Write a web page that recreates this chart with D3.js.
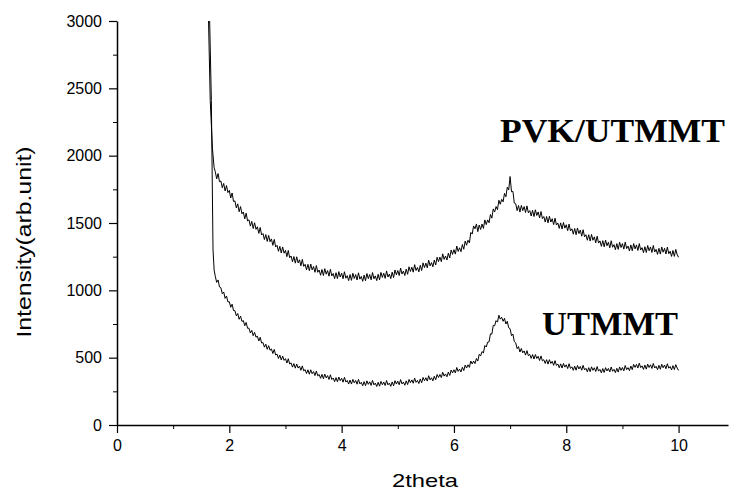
<!DOCTYPE html>
<html lang="en">
<head>
    <meta charset="UTF-8">
    <title>XRD patterns PVK/UTMMT and UTMMT</title>
    <script src="https://d3js.org/d3.v7.min.js"></script>
    <style>
        body {
            margin: 0;
            background: #fff;
        }
        .tick text {
            font-family: Arial, "Liberation Sans", sans-serif;
            font-size: 16px;
            fill: #000;
        }
        .axis path, .axis line {
            stroke: #000;
        }
    </style>
</head>
<body>
    <div id="chart"></div>

    <script>
        // scan grid of the diffractometer (2theta, degrees)
        const scanStart = 1.75;
        const scanStep = 0.025;

        // steep low-angle rise as [2theta, counts]
        const pvkRise = [[1.62, 3200], [1.63, 3000], [1.66, 2410], [1.70, 2050], [1.73, 1910]];
        const utmmtRise = [[1.64, 3200], [1.65, 3000], [1.68, 2410], [1.71, 1300], [1.73, 1150]];

        // PVK/UTMMT counts from 1.75 to 10.00, one row per 0.25 deg
        const pvkCounts = [
            1882, 1828, 1867, 1806, 1812, 1762, 1794, 1738, 1778, 1726,
            1742, 1686, 1723, 1660, 1664, 1612, 1642, 1584, 1622, 1568,
            1582, 1531, 1573, 1515, 1524, 1477, 1512, 1459, 1502, 1453,
            1472, 1423, 1467, 1411, 1422, 1377, 1414, 1363, 1408, 1361,
            1382, 1334, 1378, 1322, 1334, 1290, 1327, 1277, 1322, 1276,
            1297, 1250, 1296, 1242, 1255, 1212, 1251, 1202, 1249, 1204,
            1227, 1182, 1230, 1178, 1193, 1152, 1193, 1146, 1195, 1152,
            1177, 1134, 1184, 1134, 1151, 1112, 1155, 1110, 1161, 1120,
            1147, 1105, 1156, 1107, 1125, 1087, 1131, 1087, 1139, 1099,
            1127, 1086, 1138, 1090, 1109, 1072, 1117, 1074, 1127, 1088,
            1117, 1077, 1130, 1083, 1103, 1067, 1113, 1071, 1125, 1087,
            1117, 1078, 1132, 1086, 1107, 1072, 1119, 1078, 1133, 1096,
            1127, 1089, 1144, 1099, 1121, 1087, 1135, 1095, 1151, 1115,
            1147, 1110, 1165, 1121, 1143, 1110, 1158, 1119, 1175, 1140,
            1172, 1135, 1191, 1147, 1170, 1137, 1186, 1147, 1204, 1169,
            1202, 1167, 1224, 1182, 1206, 1175, 1225, 1188, 1246, 1213,
            1247, 1213, 1271, 1230, 1255, 1225, 1276, 1240, 1299, 1267,
            1302, 1269, 1329, 1289, 1316, 1287, 1340, 1305, 1366, 1335,
            1372, 1352, 1430, 1418, 1478, 1457, 1493, 1436, 1485, 1452,
            1492, 1460, 1523, 1488, 1523, 1502, 1563, 1536, 1605, 1582,
            1622, 1599, 1669, 1639, 1676, 1657, 1720, 1695, 1766, 1745,
            1845, 1732, 1735, 1648, 1643, 1592, 1630, 1581, 1630, 1592,
            1622, 1578, 1627, 1576, 1592, 1552, 1594, 1548, 1598, 1556,
            1582, 1537, 1585, 1533, 1548, 1507, 1548, 1501, 1550, 1507,
            1532, 1488, 1536, 1485, 1500, 1460, 1501, 1455, 1504, 1462,
            1487, 1443, 1492, 1441, 1457, 1417, 1459, 1413, 1463, 1421,
            1447, 1402, 1450, 1398, 1413, 1372, 1413, 1366, 1415, 1372,
            1397, 1353, 1402, 1351, 1367, 1327, 1369, 1323, 1373, 1331,
            1357, 1316, 1368, 1320, 1339, 1302, 1347, 1304, 1357, 1318,
            1347, 1306, 1358, 1310, 1329, 1292, 1337, 1294, 1347, 1308,
            1337, 1296, 1347, 1299, 1317, 1280, 1324, 1281, 1333, 1294,
            1322, 1281, 1333, 1285, 1304, 1267, 1312, 1269, 1322, 1283,
            1312, 1270, 1321, 1272, 1290, 1252, 1296, 1252, 1304, 1264,
            1245
        ];

        // UTMMT counts from 1.75 to 10.00, one row per 0.25 deg
        const utmmtCounts = [
            1105, 1059, 1077, 1025, 1019, 975, 988, 940, 958, 914,
            915, 874, 897, 850, 849, 810, 828, 785, 808, 769,
            775, 737, 762, 718, 719, 683, 703, 663, 688, 652,
            660, 624, 651, 609, 612, 578, 600, 562, 589, 555,
            565, 531, 561, 520, 526, 494, 519, 483, 512, 480,
            493, 460, 492, 453, 461, 430, 456, 422, 453, 423,
            437, 406, 439, 402, 411, 382, 410, 377, 410, 381,
            397, 367, 401, 365, 375, 347, 376, 344, 378, 350,
            367, 338, 373, 338, 349, 322, 352, 321, 356, 329,
            347, 318, 354, 319, 331, 304, 334, 304, 339, 313,
            331, 303, 339, 305, 317, 291, 322, 292, 328, 302,
            321, 294, 331, 298, 311, 286, 317, 288, 324, 299,
            319, 293, 330, 298, 311, 287, 320, 291, 329, 304,
            325, 299, 337, 305, 319, 295, 328, 300, 338, 314,
            335, 310, 348, 317, 331, 308, 342, 314, 353, 329,
            351, 326, 366, 335, 351, 328, 362, 336, 375, 353,
            375, 352, 392, 363, 379, 358, 393, 368, 408, 387,
            410, 387, 427, 398, 415, 394, 429, 404, 445, 423,
            447, 428, 475, 454, 475, 456, 494, 475, 525, 513,
            545, 535, 590, 579, 615, 617, 677, 675, 740, 737,
            775, 764, 815, 786, 800, 770, 792, 750, 770, 722,
            715, 663, 675, 619, 610, 567, 582, 542, 568, 536,
            550, 519, 552, 515, 524, 495, 523, 490, 523, 494,
            510, 479, 513, 476, 485, 457, 485, 452, 485, 457,
            473, 443, 478, 442, 453, 425, 454, 423, 457, 430,
            447, 419, 455, 420, 432, 406, 437, 407, 442, 416,
            435, 407, 443, 409, 421, 395, 426, 396, 432, 406,
            425, 397, 434, 400, 413, 387, 419, 390, 426, 401,
            420, 394, 431, 399, 413, 389, 421, 393, 431, 406,
            427, 402, 442, 411, 426, 404, 438, 411, 450, 428,
            450, 423, 459, 426, 439, 413, 445, 415, 452, 427,
            447, 420, 457, 423, 436, 411, 443, 414, 451, 425,
            445, 418, 455, 422, 434, 409, 441, 412, 448, 423,
            405
        ];

        const xTicks = [0, 2, 4, 6, 8, 10];
        const xMinorTicks = [1, 3, 5, 7, 9];
        const yTicks = [0, 500, 1000, 1500, 2000, 2500, 3000];
        const yMinorTicks = [250, 750, 1250, 1750, 2250, 2750];

        const seriesLabels = ["PVK/UTMMT", "UTMMT"];

        const width = 729;
        const height = 493;
        const margin = { top: 21, right: 1, bottom: 68, left: 117 };

        const svg = d3.select("#chart").append("svg")
            .attr("width", width)
            .attr("height", height);

        const x = d3.scaleLinear()
            .domain([0, 10.88])
            .range([margin.left, width - margin.right]);

        const y = d3.scaleLinear()
            .domain([0, 3000])
            .range([height - margin.bottom, margin.top]);

        function toPoints(rise, counts) {
            const pts = rise.map(d => ({ t: d[0], v: d[1] }));
            counts.forEach((v, i) => pts.push({ t: scanStart + i * scanStep, v: v }));
            return pts;
        }

        const pvk = toPoints(pvkRise, pvkCounts);
        const utmmt = toPoints(utmmtRise, utmmtCounts);

        svg.append("clipPath").attr("id", "plot-clip")
            .append("rect")
            .attr("x", margin.left)
            .attr("y", margin.top)
            .attr("width", width - margin.left - margin.right)
            .attr("height", height - margin.top - margin.bottom);

        const line = d3.line()
            .x(d => x(d.t))
            .y(d => y(d.v));

        const curves = svg.append("g").attr("clip-path", "url(#plot-clip)");
        [pvk, utmmt].forEach(series => {
            curves.append("path")
                .datum(series)
                .attr("fill", "none")
                .attr("stroke", "#000")
                .attr("stroke-width", 1)
                .attr("d", line);
        });

        // x axis: major ticks with labels, minor ticks without
        svg.append("g")
            .attr("class", "axis")
            .attr("transform", `translate(0,${y(0)})`)
            .call(d3.axisBottom(x).tickValues(xMinorTicks).tickSize(4).tickFormat(""))
            .call(g => g.select(".domain").remove());

        svg.append("g")
            .attr("class", "axis")
            .attr("transform", `translate(0,${y(0)})`)
            .call(d3.axisBottom(x).tickValues(xTicks).tickSize(8).tickSizeOuter(0).tickPadding(7).tickFormat(d3.format("d")))
            .call(g => g.select(".domain").attr("stroke-width", 1.5))
            .call(g => g.selectAll(".tick line").attr("stroke-width", 1.2));

        // y axis
        svg.append("g")
            .attr("class", "axis")
            .attr("transform", `translate(${x(0)},0)`)
            .call(d3.axisLeft(y).tickValues(yMinorTicks).tickSize(4).tickFormat(""))
            .call(g => g.select(".domain").remove());

        svg.append("g")
            .attr("class", "axis")
            .attr("transform", `translate(${x(0)},0)`)
            .call(d3.axisLeft(y).tickValues(yTicks).tickSize(8).tickSizeOuter(0).tickPadding(7).tickFormat(d3.format("d")))
            .call(g => g.select(".domain").attr("stroke-width", 1.5))
            .call(g => g.selectAll(".tick line").attr("stroke-width", 1.2));

        // axis titles
        svg.append("text")
            .attr("x", 425)
            .attr("y", 487)
            .attr("text-anchor", "middle")
            .attr("textLength", 66)
            .attr("lengthAdjust", "spacingAndGlyphs")
            .style("font-family", "Arial, 'Liberation Sans', sans-serif")
            .style("font-size", "19px")
            .text("2theta");

        svg.append("text")
            .attr("transform", `translate(31,242) rotate(-90)`)
            .attr("text-anchor", "middle")
            .attr("textLength", 191)
            .attr("lengthAdjust", "spacingAndGlyphs")
            .style("font-family", "Arial, 'Liberation Sans', sans-serif")
            .style("font-size", "21px")
            .text("Intensity(arb.unit)");

        // series labels
        const labelPos = [
            { x: 500, y: 142, len: 225 },
            { x: 542, y: 335, len: 136 }
        ];
        seriesLabels.forEach((name, i) => {
            svg.append("text")
                .attr("x", labelPos[i].x)
                .attr("y", labelPos[i].y)
                .attr("textLength", labelPos[i].len)
                .attr("lengthAdjust", "spacingAndGlyphs")
                .style("font-family", "'Liberation Serif', 'Times New Roman', serif")
                .style("font-weight", "bold")
                .style("font-size", "34px")
                .text(name);
        });
    </script>
</body>
</html>
